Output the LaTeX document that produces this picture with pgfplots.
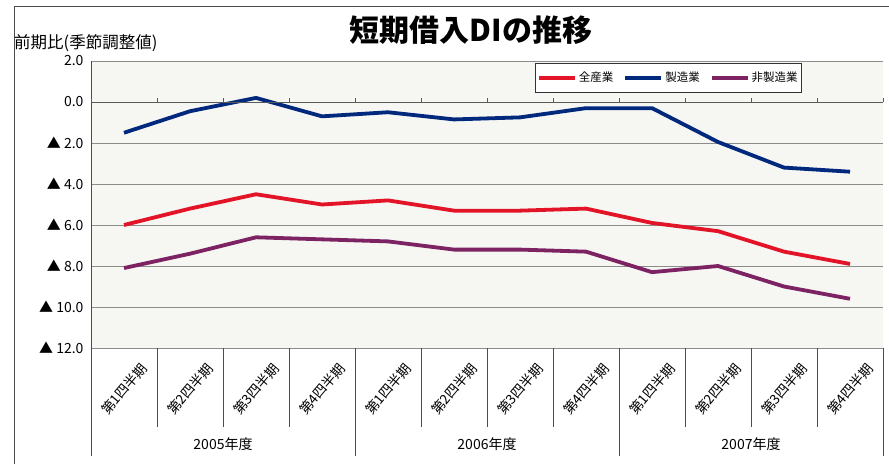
\documentclass[border=0pt]{standalone}
\usepackage{pgfplots}
\pgfplotsset{compat=1.18}
\usepackage{fontspec}
\setmainfont{Noto Sans CJK JP}
\definecolor{cred}{RGB}{228,20,40}
\definecolor{cblue}{RGB}{0,40,125}
\definecolor{cpurple}{RGB}{125,35,100}
\definecolor{plotbg}{RGB}{246,246,242}
\begin{document}
\begin{tikzpicture}[x=1pt,y=1pt]
\useasboundingbox (0,0) rectangle (889,464);
\fill[white] (0,0) rectangle (889,464);
\draw[black!70, line width=1pt] (14,0) -- (14,457) -- (889,457);
\node[font=\bfseries\fontsize{30}{30}\selectfont] at (471,434) {短期借入DIの推移};
\node[anchor=west, inner sep=0pt, font=\fontsize{16.5}{17}\selectfont] at (14,421) {前期比(季節調整値)};
\begin{axis}[
  at={(91pt,116pt)}, anchor=south west, scale only axis,
  width=792pt, height=287pt,
  xmin=-0.5, xmax=11.5, ymin=-12, ymax=2,
  clip=false,
  axis background/.style={fill=plotbg},
  axis y line*=left, axis x line*=bottom,
  y axis line style={black!70, line width=1pt},
  x axis line style={black!45, line width=0.8pt},
  ymajorgrids, grid style={black!45, line width=0.8pt},
  major tick length=0pt,
  ytick={2,0,-2,-4,-6,-8,-10,-12},
  yticklabels={2.0,0.0,▲ 2.0,▲ 4.0,▲ 6.0,▲ 8.0,▲ 10.0,▲ 12.0},
  yticklabel style={font=\fontsize{14}{14}\selectfont, xshift=-4pt},
  xtick={0,...,11},
  xticklabels={第1四半期,第2四半期,第3四半期,第4四半期,第1四半期,第2四半期,第3四半期,第4四半期,第1四半期,第2四半期,第3四半期,第4四半期},
  xticklabel style={anchor=center, yshift=-41pt, rotate=50, inner sep=0pt, font=\fontsize{13.5}{14}\selectfont},
  legend columns=3,
  legend style={at={(0.5606,0.993)}, anchor=north west, draw=black!80, fill=white,
    font=\fontsize{11.5}{12}\selectfont, inner xsep=2pt, inner ysep=7pt,
    /tikz/every even column/.append style={column sep=8pt}},
  legend image code/.code={\draw[#1, line width=3.8pt] (0pt,0pt) -- (36pt,0pt);},
]
\addplot[cred, line width=3.8pt, line join=round] coordinates {
 (0,-6.0) (1,-5.2) (2,-4.5) (3,-5.0) (4,-4.8) (5,-5.3) (6,-5.3) (7,-5.2) (8,-5.9) (9,-6.3) (10,-7.3) (11,-7.9)};
\addlegendentry{全産業}
\addplot[cblue, line width=3.8pt, line join=round] coordinates {
 (0,-1.5) (1,-0.45) (2,0.2) (3,-0.7) (4,-0.5) (5,-0.85) (6,-0.75) (7,-0.3) (8,-0.3) (9,-1.95) (10,-3.2) (11,-3.4)};
\addlegendentry{製造業}
\addplot[cpurple, line width=3.8pt, line join=round] coordinates {
 (0,-8.1) (1,-7.4) (2,-6.6) (3,-6.7) (4,-6.8) (5,-7.2) (6,-7.2) (7,-7.3) (8,-8.3) (9,-8.0) (10,-9.0) (11,-9.6)};
\addlegendentry{非製造業}
% zero line with small ticks
\draw[black!65, line width=0.8pt] (axis cs:-0.5,0) -- (axis cs:11.5,0);
\pgfplotsinvokeforeach{0,...,12}{\draw[black!65, line width=0.8pt] (axis cs:#1-0.5,0) -- ++(0pt,4pt);}
% category separators
\pgfplotsinvokeforeach{0,...,12}{\draw[black!70, line width=0.8pt] (axis cs:#1-0.5,-12) -- ++(0pt,-79pt);}
\pgfplotsinvokeforeach{0,4,8,12}{\draw[black!70, line width=0.8pt] (axis cs:#1-0.5,-12) -- ++(0pt,-108pt);}
\node[font=\fontsize{14}{14}\selectfont] at ([yshift=-96pt]axis cs:1.5,-12) {2005年度};
\node[font=\fontsize{14}{14}\selectfont] at ([yshift=-96pt]axis cs:5.5,-12) {2006年度};
\node[font=\fontsize{14}{14}\selectfont] at ([yshift=-96pt]axis cs:9.5,-12) {2007年度};
\end{axis}
\end{tikzpicture}
\end{document}
